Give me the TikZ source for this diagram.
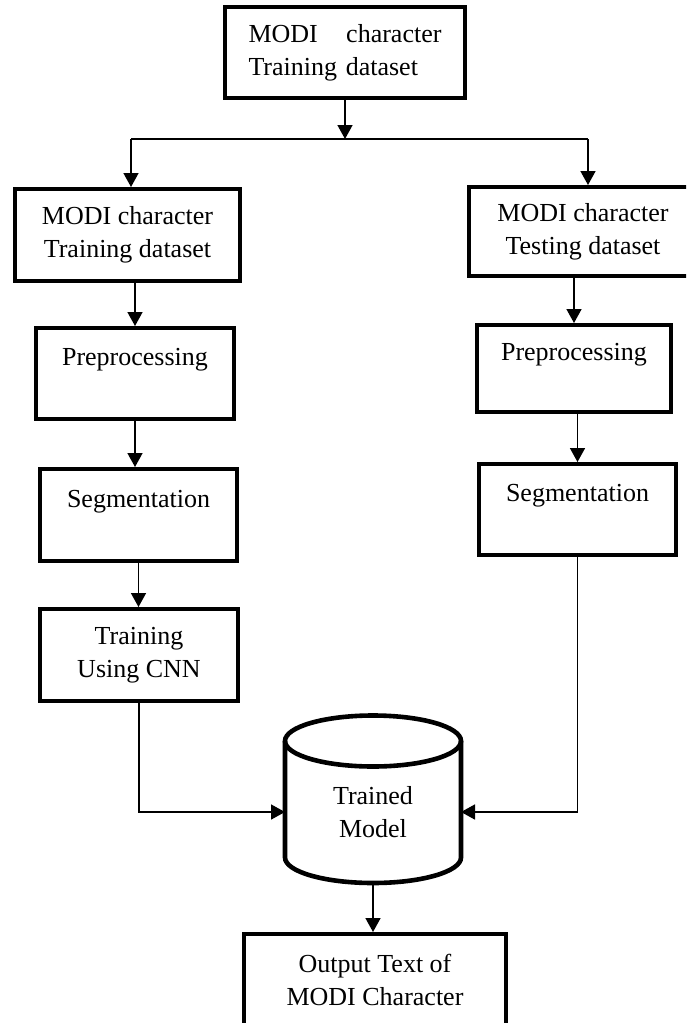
\documentclass[tikz,border=0pt]{standalone}
\usepackage{fontspec}
\setmainfont{Liberation Serif}
\usetikzlibrary{arrows.meta}
\begin{document}
\begin{tikzpicture}[x=0.5pt,y=-0.5pt,font=\fontsize{13}{16.5}\selectfont]
  \tikzstyle{stage}=[draw,line width=2pt,align=center,inner sep=0pt]
  \tikzstyle{arr}=[line width=0.8pt,-{Triangle[width=7.5pt,length=7pt]}]
  \tikzstyle{db}=[line width=2.3pt]
  \clip (0,0) rectangle (686,1023);
  \node[stage,minimum width=120pt,minimum height=45.5pt,text width=96.5pt,align=left] (train) at (345,52.5) {MODI\hfill character\\Training dataset};
  \node[stage,minimum width=112.5pt,minimum height=46pt] (ltrain) at (127.5,235) {MODI character\\Training dataset};
  \node[stage,minimum width=99pt,minimum height=45.5pt] (lpre) at (135,373.5) {Preprocessing\\\mbox{}};
  \node[stage,minimum width=98.5pt,minimum height=46pt] (lseg) at (138.5,515) {Segmentation\\\mbox{}};
  \node[stage,minimum width=99pt,minimum height=46pt] (lcnn) at (139,655) {Training\\Using CNN};
  \node[stage,minimum width=114pt,minimum height=44.5pt] (rtest) at (583,231.5) {MODI character\\Testing dataset};
  \node[stage,minimum width=97pt,minimum height=43.5pt] (rpre) at (574,368.5) {Preprocessing\\\mbox{}};
  \node[stage,minimum width=98.5pt,minimum height=45.5pt] (rseg) at (577.5,509.5) {Segmentation\\\mbox{}};
  \node[minimum width=88pt,minimum height=71pt,inner sep=0pt,outer sep=0pt,align=center] (model) at (373,812) {Trained\\Model};
  \draw[db] (model.north) ellipse [x radius=44pt,y radius=12.75pt];
  \draw[db] (model.north west) -- ([yshift=12.75pt]model.south west)
    arc[start angle=180,end angle=360,x radius=44pt,y radius=12.75pt] -- (model.north east);
  \node[stage,minimum width=131pt,minimum height=46pt] (out) at (375,980) {Output Text of\\MODI Character};
  \coordinate (splitL) at (131,139);
  \coordinate (splitR) at (588,139);
  \draw[arr] (train.south) -- (train.south |- splitL);
  \draw[line width=0.8pt] (splitL) -- (splitR);
  \draw[arr] (splitL) -- (splitL |- ltrain.north);
  \draw[arr] (splitR) -- (splitR |- rtest.north);
  \draw[arr] (ltrain.south -| lpre) -- (lpre.north);
  \draw[arr] (lpre.south) -- (lpre.south |- lseg.north);
  \draw[arr] (lseg.south) -- (lseg.south |- lcnn.north);
  \draw[arr] (lcnn.south) |- (model.west);
  \draw[arr] (rtest.south -| rpre) -- (rpre.north);
  \draw[arr] (rpre.south -| rseg) -- (rseg.north);
  \draw[arr] (rseg.south) |- (model.east);
  \draw[arr] (model.south) -- (model.south |- out.north);
\end{tikzpicture}
\end{document}
